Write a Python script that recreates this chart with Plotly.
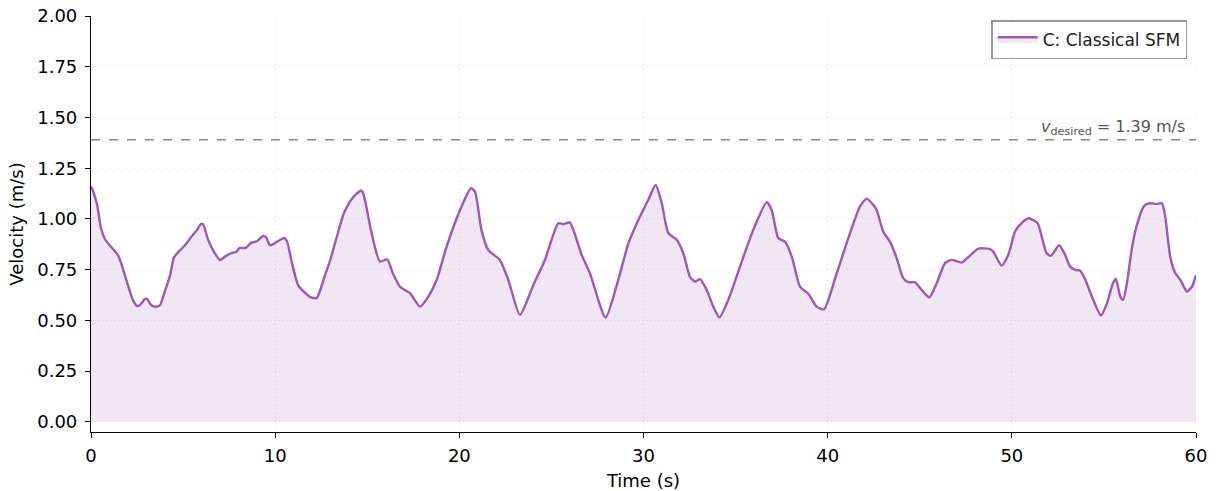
import plotly.graph_objects as go

time_s = [0.0, 0.1, 0.33, 0.54, 0.76, 1.14, 1.47, 1.68, 2.0, 2.28, 2.5, 2.66, 2.93, 3.04, 3.26, 3.53, 3.75,
          4.0, 4.3, 4.5, 4.78, 5.1, 5.43, 5.76, 5.97, 6.08, 6.35, 6.62, 7.0, 7.33, 7.66, 7.87, 8.09, 8.4,
          8.69, 9.0, 9.34, 9.5, 9.72, 10.0, 10.26, 10.48, 10.64, 10.9, 11.24, 11.57, 11.9, 12.25, 12.43,
          12.7, 13.0, 13.36, 13.74, 14.17, 14.64, 14.75, 14.93, 15.26, 15.69, 16.09, 16.4, 16.78, 17.32,
          17.86, 18.3, 18.77, 19.31, 20.04, 20.63, 20.85, 21.2, 21.57, 22.2, 22.66, 23.29, 24.02, 24.65,
          25.37, 25.65, 26.0, 26.64, 27.09, 27.94, 28.63, 29.18, 29.72, 30.26, 30.66, 30.99, 31.35, 31.8,
          32.16, 32.52, 32.8, 33.07, 33.43, 33.79, 34.12, 34.6, 35.24, 35.96, 36.69, 36.96, 37.32, 37.68,
          38.05, 38.5, 38.95, 39.4, 39.8, 40.49, 41.21, 41.75, 42.12, 42.48, 42.66, 43.02, 43.38, 43.75,
          44.1, 44.38, 44.74, 45.1, 45.52, 45.92, 46.37, 46.73, 47.28, 47.63, 48.18, 48.81, 48.99, 49.45,
          49.81, 50.17, 50.53, 50.9, 51.4, 51.62, 51.89, 52.12, 52.57, 52.89, 53.17, 53.45, 53.72, 53.99,
          54.35, 54.84, 55.17, 55.49, 55.65, 55.89, 56.04, 56.25, 56.52, 56.79, 57.16, 57.43, 57.88,
          58.15, 58.33, 58.6, 58.88, 59.15, 59.51, 59.78, 60.0]
velocity = [1.16, 1.14, 1.07, 0.955, 0.90, 0.857, 0.82, 0.77, 0.675, 0.60, 0.571, 0.576, 0.606, 0.606,
            0.576, 0.567, 0.576, 0.64, 0.724, 0.81, 0.84, 0.87, 0.91, 0.946, 0.975, 0.975, 0.90, 0.847,
            0.798, 0.818, 0.833, 0.837, 0.857, 0.857, 0.882, 0.89, 0.916, 0.91, 0.87, 0.882, 0.896, 0.906,
            0.89, 0.788, 0.675, 0.64, 0.615, 0.61, 0.645, 0.72, 0.80, 0.916, 1.03, 1.10, 1.139, 1.133,
            1.07, 0.92, 0.79, 0.80, 0.73, 0.666, 0.634, 0.568, 0.615, 0.70, 0.864, 1.044, 1.151, 1.135,
            0.946, 0.847, 0.798, 0.70, 0.527, 0.675, 0.798, 0.979, 0.974, 0.982, 0.823, 0.732, 0.514, 0.70,
            0.88, 0.995, 1.094, 1.167, 1.077, 0.93, 0.897, 0.831, 0.716, 0.691, 0.703, 0.65, 0.568, 0.514,
            0.601, 0.765, 0.946, 1.082, 1.044, 0.905, 0.888, 0.814, 0.666, 0.631, 0.568, 0.555, 0.732,
            0.929, 1.061, 1.10, 1.069, 1.044, 0.937, 0.888, 0.806, 0.708, 0.688, 0.688, 0.65, 0.614, 0.683,
            0.782, 0.798, 0.785, 0.811, 0.854, 0.851, 0.839, 0.77, 0.823, 0.937, 0.979, 1.003, 0.979, 0.913,
            0.831, 0.818, 0.87, 0.823, 0.765, 0.749, 0.745, 0.70, 0.617, 0.524, 0.585, 0.683, 0.704, 0.617,
            0.601, 0.683, 0.856, 0.97, 1.061, 1.077, 1.074, 1.077, 1.011, 0.814, 0.732, 0.70, 0.642, 0.666,
            0.724]

v_desired = 1.39
series_name = "C: Classical SFM"
x_ticks = [0, 10, 20, 30, 40, 50, 60]
y_ticks = [0.0, 0.25, 0.5, 0.75, 1.0, 1.25, 1.5, 1.75, 2.0]

purple = "#9b59b6"
font_family = "DejaVu Sans, Liberation Sans, sans-serif"

fig = go.Figure()
fig.add_trace(go.Scatter(
    x=time_s, y=velocity, mode="lines", name=series_name,
    line=dict(color=purple, width=2.4, shape="spline", smoothing=0.6),
    fill="tozeroy", fillcolor="rgba(155,89,182,0.15)",
))
fig.add_trace(go.Scatter(
    x=[x_ticks[0], x_ticks[-1]], y=[v_desired, v_desired], mode="lines",
    line=dict(color="#888888", width=1.4, dash="dash"), showlegend=False, hoverinfo="skip",
))
fig.add_annotation(
    x=59.5, y=v_desired, xref="x", yref="y", xanchor="right", yanchor="bottom",
    text="<i>v</i><sub>desired</sub> = 1.39 m/s", showarrow=False,
    font=dict(family=font_family, size=16, color="#555555"), yshift=0,
)

fig.update_layout(
    width=1217, height=491,
    margin=dict(l=91, r=21, t=16, b=59),
    paper_bgcolor="white", plot_bgcolor="white",
    font=dict(family=font_family, size=18, color="black"),
    showlegend=True,
    legend=dict(x=0.992, y=0.99, xanchor="right", yanchor="top",
                bordercolor="#999999", borderwidth=1.5, bgcolor="white", itemwidth=40,
                font=dict(family=font_family, size=17, color="#222222")),
    xaxis=dict(range=[0, 60], tickvals=x_ticks, automargin=False,
               title=dict(text="Time (s)", font=dict(size=18), standoff=10),
               showline=True, linecolor="black", linewidth=1.2, mirror=False,
               ticks="outside", ticklen=5, tickcolor="black", ticklabelstandoff=2,
               tickfont=dict(size=18),
               showgrid=True, gridcolor="#e2e2e2", griddash="1px,3px", gridwidth=1, zeroline=False),
    yaxis=dict(range=[-0.05, 2.0], tickvals=y_ticks, tickformat=".2f", automargin=False,
               title=dict(text="Velocity (m/s)", font=dict(size=18), standoff=8),
               showline=True, linecolor="black", linewidth=1.2, mirror=False,
               ticks="outside", ticklen=5, tickcolor="black", ticklabelstandoff=4,
               tickfont=dict(size=18),
               showgrid=True, gridcolor="#e2e2e2", griddash="1px,3px", gridwidth=1, zeroline=False),
)

fig.write_html("out.html")
